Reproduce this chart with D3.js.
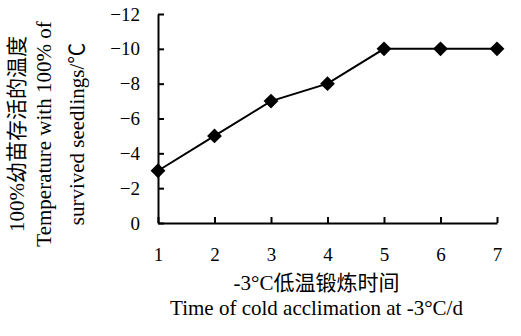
<!DOCTYPE html>
<html>
<head>
<meta charset="utf-8">
<script src="https://cdn.jsdelivr.net/npm/d3@7"></script>
<style>
    body { margin: 0; background: #fff; }
    svg text { font-family: "Liberation Serif", "Noto Sans CJK SC", serif; fill: #000; }
</style>
</head>
<body>
<svg id="chart" width="521" height="336"></svg>
<script>
// Data
const days = [1, 2, 3, 4, 5, 6, 7];
const temps = [-3, -5, -7, -8, -10, -10, -10];
const yTicks = [0, -2, -4, -6, -8, -10, -12];

const yTitleLines = ["100%幼苗存活的温度", "Temperature with 100% of", "survived seedlings/℃"];
const xTitleCn = "-3°C低温锻炼时间";
const xTitleEn = "Time of cold acclimation at -3°C/d";

document.addEventListener("DOMContentLoaded", function() {

    // Display settings
    const width = 521, height = 336;
    const margin = {top: 14, right: 24, bottom: 113, left: 158};
    const graphWidth = width - margin.left - margin.right;
    const graphHeight = height - margin.top - margin.bottom;

    ////////// Scales //////////
    const x = d3.scaleLinear().domain([1, 7]).range([0, graphWidth]);
    const y = d3.scaleLinear().domain([0, -12]).range([graphHeight, 0]);
    const line = d3.line()
        .x((d, i) => x(days[i]))
        .y(d => y(d));

    const svgElement = d3.select("#chart")
        .append("g")
        .attr("transform", `translate(${margin.left},${margin.top})`);

    ////////// Axes //////////
    const xAxis = svgElement.append("g")
        .attr("transform", `translate(0,${graphHeight})`)
        .call(d3.axisBottom(x).tickValues(days).tickFormat(d3.format("d"))
            .tickSizeInner(-6).tickSizeOuter(0).tickPadding(25));

    const yAxis = svgElement.append("g")
        .call(d3.axisLeft(y).tickValues(yTicks)
            .tickSizeInner(-6).tickSizeOuter(0).tickPadding(18));

    [xAxis, yAxis].forEach(g => {
        g.select(".domain").attr("stroke", "#000").attr("stroke-width", 2);
        g.selectAll(".tick line").attr("stroke", "#000").attr("stroke-width", 2);
        g.selectAll(".tick text")
            .style("font-family", "Liberation Serif")
            .style("font-size", "19px");
    });

    ////////// Series //////////
    svgElement.append("path")
        .datum(temps)
        .attr("d", line)
        .attr("fill", "none")
        .attr("stroke", "#000")
        .attr("stroke-width", 2);

    svgElement.selectAll(".marker")
        .data(temps)
        .enter().append("path")
        .attr("class", "marker")
        .attr("transform", (d, i) => `translate(${x(days[i])},${y(d)})`)
        .attr("d", d3.symbol(d3.symbolDiamond2, 140))
        .attr("fill", "#000");

    ////////// Titles //////////
    const xMid = x(4) - 11;
    svgElement.append("text")
        .attr("x", xMid)
        .attr("y", graphHeight + 67)
        .attr("text-anchor", "middle")
        .style("font-size", "21px")
        .text(xTitleCn);

    svgElement.append("text")
        .attr("x", xMid)
        .attr("y", graphHeight + 92)
        .attr("text-anchor", "middle")
        .style("font-size", "21px")
        .text(xTitleEn);

    const yTitleX = [24, 51, 84];
    svgElement.selectAll(".ytitle")
        .data(yTitleLines)
        .enter().append("text")
        .attr("class", "ytitle")
        .attr("transform", (d, i) => `translate(${yTitleX[i] - margin.left},${134 - margin.top}) rotate(-90)`)
        .attr("text-anchor", "middle")
        .style("font-size", "21px")
        .text(d => d);
});
</script>
</body>
</html>
